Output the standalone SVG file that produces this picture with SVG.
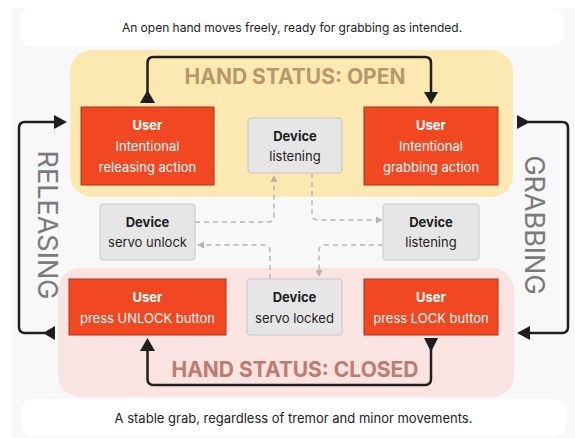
<svg xmlns="http://www.w3.org/2000/svg" width="575" height="438" viewBox="0 0 575 438">
  <defs>
    <style>
      text { font-family: Inter, "Noto Sans", "Liberation Sans", sans-serif; text-anchor: middle; }
      .band { fill: #ffffff; }
      .band-text { fill: #222222; }
      .user rect { fill: #f24822; stroke: #a8341c; stroke-width: 1; }
      .user text { fill: #ffffff; font-size: 13px; }
      .device rect { fill: #e6e6e6; stroke: #c6c6c6; stroke-width: 1; }
      .device text { fill: #1e1e1e; font-size: 13px; }
      .head { font-weight: 700; }
      .title { font-size: 21px; font-weight: 700; }
      .side { font-size: 27px; fill: #7b7b7b; }
      .flow { fill: none; stroke: #1e1e1e; stroke-width: 2.5; stroke-linejoin: round; }
      .flow-tip { fill: #1e1e1e; }
      .dash { fill: none; stroke: #b4b4b4; stroke-width: 1.4; stroke-dasharray: 5 4; }
      .dash-tip { fill: #b4b4b4; }
    </style>
  </defs>

  <!-- canvas -->
  <rect x="0" y="0" width="575" height="438" fill="#ffffff"/>
  <rect x="12" y="8" width="563" height="430" fill="#f8f8f8"/>

  <!-- caption bands -->
  <rect class="band" x="19" y="8" width="545" height="38" rx="12"/>
  <text class="band-text" x="292" y="32" font-size="12px">An open hand moves freely, ready for grabbing as intended.</text>
  <rect class="band" x="21" y="399" width="545" height="37" rx="12"/>
  <text class="band-text" x="293.5" y="423" font-size="13px">A stable grab, regardless of tremor and minor movements.</text>

  <!-- state regions -->
  <g id="state-open">
    <rect x="70" y="50" width="443" height="147" rx="22" fill="#fce9b2"/>
    <text class="title" x="295" y="84" fill="#b8986a">HAND STATUS: OPEN</text>
  </g>
  <g id="state-closed">
    <rect x="58" y="268" width="456" height="129" rx="22" fill="#f9e4e1"/>
    <text class="title" x="295" y="377" fill="#c27a6f">HAND STATUS: CLOSED</text>
  </g>

  <!-- transition labels -->
  <text class="side" transform="translate(38,225) rotate(90)">RELEASING</text>
  <text class="side" transform="translate(525,225) rotate(90)">GRABBING</text>

  <!-- connectors -->
  <g id="connectors">
    <!-- releasing action -> grabbing action -->
    <path class="flow" d="M147.5,100 V63 Q147.5,57 153.5,57 H425 Q431,57 431,63 V93"/>
    <polygon class="flow-tip" points="140,103 155,103 147.5,90"/>
    <polygon class="flow-tip" points="424,92 438,92 431,104"/>
    <!-- grabbing action -> press LOCK -->
    <path class="flow" d="M528,122 H562 Q568,122 568,128 V327 Q568,333 562,333 H528"/>
    <polygon class="flow-tip" points="517,115 517,129 530,122"/>
    <polygon class="flow-tip" points="530,326 530,340 517,333"/>
    <!-- press LOCK -> press UNLOCK -->
    <path class="flow" d="M431,342 V379 Q431,385 425,385 H153.5 Q147.5,385 147.5,379 V349"/>
    <polygon class="flow-tip" points="424,338 438,338 431,352"/>
    <polygon class="flow-tip" points="140,351 155,351 147.5,338"/>
    <!-- press UNLOCK -> releasing action -->
    <path class="flow" d="M45,333 H25 Q19,333 19,327 V128 Q19,122 25,122 H56"/>
    <polygon class="flow-tip" points="55,326 55,340 43,333"/>
    <polygon class="flow-tip" points="54,115 54,129 67,122"/>

    <!-- device signal paths -->
    <path class="dash" d="M195,222 H268 Q274,222 274,216 V181"/>
    <polygon class="dash-tip" points="270.5,182 277.5,182 274,175"/>
    <path class="dash" d="M312,173 V214 Q312,220 318,220 H377"/>
    <polygon class="dash-tip" points="376,216.5 376,223.5 383,220"/>
    <path class="dash" d="M383,245 H325 Q319,245 319,251 V271"/>
    <polygon class="dash-tip" points="315.5,270 322.5,270 319,277"/>
    <path class="dash" d="M270,279 V251 Q270,245 264,245 H203"/>
    <polygon class="dash-tip" points="204,241.5 204,248.5 197,245"/>
  </g>

  <!-- nodes -->
  <g id="user-releasing" class="user">
    <rect x="81" y="107" width="133" height="78"/>
    <text class="head" x="147.5" y="130">User</text>
    <text x="147.5" y="151">Intentional</text>
    <text x="147.5" y="172">releasing action</text>
  </g>
  <g id="device-listening-open" class="device">
    <rect x="248" y="118" width="94" height="55" rx="3"/>
    <text class="head" x="295" y="141">Device</text>
    <text x="295" y="161">listening</text>
  </g>
  <g id="user-grabbing" class="user">
    <rect x="364" y="107" width="134" height="78"/>
    <text class="head" x="431" y="130">User</text>
    <text x="431" y="151">Intentional</text>
    <text x="431" y="172">grabbing action</text>
  </g>
  <g id="device-servo-unlock" class="device">
    <rect x="100" y="204" width="95" height="56" rx="3"/>
    <text class="head" x="147.5" y="227">Device</text>
    <text x="147.5" y="247">servo unlock</text>
  </g>
  <g id="device-listening-closed" class="device">
    <rect x="383" y="204" width="96" height="56" rx="3"/>
    <text class="head" x="431" y="227">Device</text>
    <text x="431" y="247">listening</text>
  </g>
  <g id="user-unlock" class="user">
    <rect x="69" y="279" width="157" height="56"/>
    <text class="head" x="147.5" y="302">User</text>
    <text x="147.5" y="323">press UNLOCK button</text>
  </g>
  <g id="device-servo-locked" class="device">
    <rect x="247" y="279" width="95" height="56" rx="3"/>
    <text class="head" x="294.5" y="302">Device</text>
    <text x="294.5" y="323">servo locked</text>
  </g>
  <g id="user-lock" class="user">
    <rect x="364" y="279" width="134" height="56"/>
    <text class="head" x="431" y="302">User</text>
    <text x="431" y="323">press LOCK button</text>
  </g>
</svg>
